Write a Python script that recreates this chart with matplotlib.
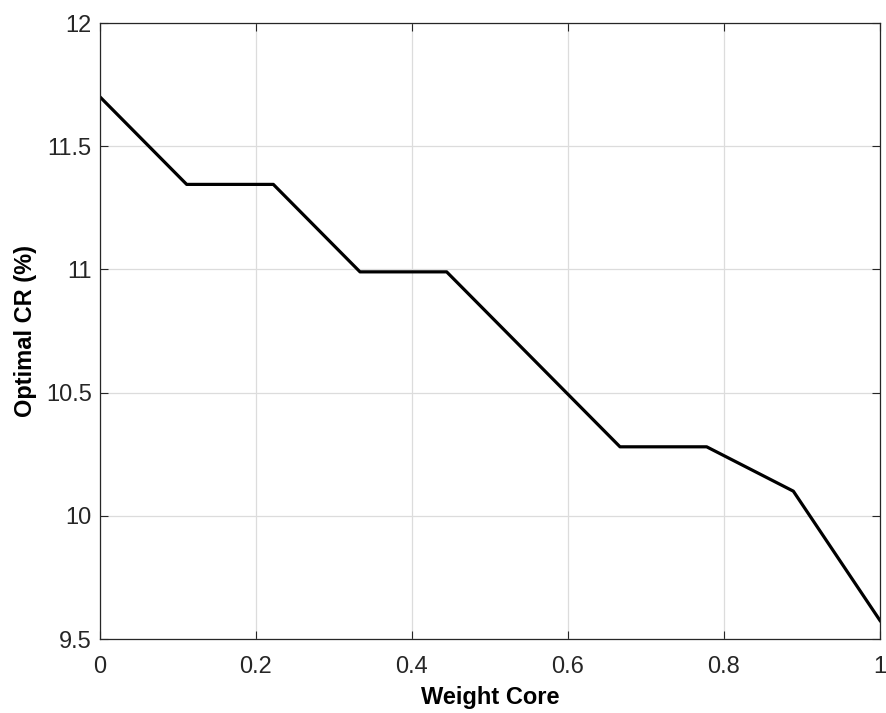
import numpy as np
import matplotlib.pyplot as plt

plt.rcParams['font.family'] = ['Liberation Sans', 'DejaVu Sans']

# data
weight_core = [0, 1/9, 2/9, 3/9, 4/9, 5/9, 6/9, 7/9, 8/9, 1]
optimal_cr = [11.70, 11.345, 11.345, 10.99, 10.99, 10.635, 10.28, 10.28, 10.10, 9.575]
x_ticks = [0, 0.2, 0.4, 0.6, 0.8, 1]
x_tick_labels = ['0', '0.2', '0.4', '0.6', '0.8', '1']
y_ticks = [9.5, 10, 10.5, 11, 11.5, 12]
y_tick_labels = ['9.5', '10', '10.5', '11', '11.5', '12']

fig = plt.figure(figsize=(8.86, 7.13), dpi=100)
ax = fig.add_axes([100/886, 1 - 639/713, 780/886, 616/713])

ax.plot(weight_core, optimal_cr, color='black', linewidth=2.3)

ax.set_xlim(0, 1)
ax.set_ylim(9.5, 12)
ax.set_xticks(x_ticks)
ax.set_xticklabels(x_tick_labels)
ax.set_yticks(y_ticks)
ax.set_yticklabels(y_tick_labels)

ax.grid(True, color='#dcdcdc', linewidth=0.9)
ax.set_axisbelow(True)
ax.tick_params(direction='in', top=True, right=True, length=6, width=0.8,
               labelsize=17, colors='#262626')
ax.tick_params(axis='x', pad=12)
ax.tick_params(axis='y', pad=6)
for sp in ax.spines.values():
    sp.set_color('#262626')
    sp.set_linewidth(0.9)

ax.set_xlabel('Weight Core', fontsize=17, fontweight='bold', labelpad=6)
ax.set_ylabel('Optimal CR (%)', fontsize=17, fontweight='bold', labelpad=6)

fig.savefig('out.png', dpi=100)
